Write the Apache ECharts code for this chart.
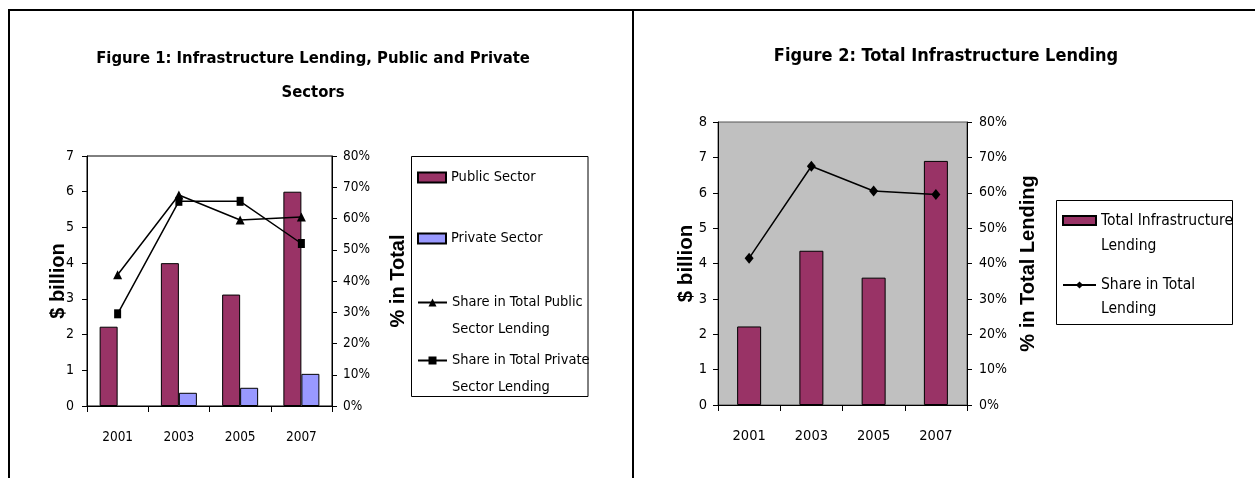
<!DOCTYPE html>
<html>
<head>
<meta charset="utf-8">
<script src="https://cdn.jsdelivr.net/npm/echarts@6/dist/echarts.min.js"></script>
<style>
html,body{margin:0;padding:0;background:#fff;}
#chart{width:1255px;height:478px;}
</style>
</head>
<body>
<div id="chart"></div>
<script>
// ---- data ----
const years = ['2001', '2003', '2005', '2007'];
const publicSector = [2.22, 4.0, 3.12, 6.0];
const privateSector = [null, 0.37, 0.51, 0.9];
const sharePublic = [42, 67.5, 59.5, 60.5];
const sharePrivate = [29.5, 65.5, 65.5, 52];
const totalLending = [2.22, 4.36, 3.6, 6.9];
const shareTotal = [41.5, 67.5, 60.5, 59.5];

const title1 = 'Figure 1: Infrastructure Lending, Public and Private\nSectors';
const title2 = 'Figure 2: Total Infrastructure Lending';

const NARROW = "'Liberation Sans Narrow','Arial Narrow','DejaVu Sans Condensed',sans-serif";
const SANS = "'Liberation Sans',Arial,sans-serif";

const chart = echarts.init(document.getElementById('chart'), null, {renderer: 'canvas'});

const axisNameStyle = (size) => ({fontFamily: SANS, fontSize: size, fontWeight: 'bold', color: '#000'});
const blackLine = {color: '#000', width: 1};

function catAxis(gridIndex, fs) {
  return {
    type: 'category', gridIndex, data: years,
    axisLine: {show: true, lineStyle: blackLine},
    axisTick: {show: true, interval: 0, length: 6, lineStyle: blackLine},
    axisLabel: {interval: 0, margin: 24, fontFamily: NARROW, fontSize: fs, color: '#000'},
    splitLine: {show: false}
  };
}
function valAxis(gridIndex, position, max, interval, fmt, name, nameGap, margin, fs, nfs) {
  return {
    type: 'value', gridIndex, position, min: 0, max, interval,
    name, nameLocation: 'middle', nameGap, nameRotate: 90, nameMoveOverlap: false,
    nameTextStyle: axisNameStyle(nfs),
    axisLine: {show: true, lineStyle: blackLine},
    axisTick: {show: true, length: 5, lineStyle: blackLine},
    axisLabel: {margin, formatter: fmt, fontFamily: NARROW, fontSize: fs, color: '#000'},
    splitLine: {show: false}
  };
}

function oneLegend(name, label, left, top, w, h, L, fs, icon) {
  const ts = {fontFamily: NARROW, fontSize: fs, color: '#000', lineHeight: L};
  const leg = {
    show: true, orient: 'vertical', left, top, padding: 0, itemGap: 0,
    itemWidth: w, itemHeight: h, selectedMode: false,
    formatter: () => label,
    data: [{name, textStyle: ts}],
    textStyle: ts
  };
  if (icon) leg.icon = icon;
  return leg;
}

const option = {
  animation: false,
  backgroundColor: '#fff',
  title: [
    {text: title1, left: 313, top: 42, textAlign: 'center', padding: 0,
     textStyle: {fontFamily: NARROW, fontSize: 16.5, fontWeight: 'bold', color: '#000', lineHeight: 34}},
    {text: title2, left: 946, top: 39, textAlign: 'center', padding: 0,
     textStyle: {fontFamily: NARROW, fontSize: 18, fontWeight: 'bold', color: '#000', lineHeight: 34}}
  ],
  grid: [
    {left: 87, top: 156, width: 245, height: 250, show: true, backgroundColor: '#fff', borderColor: '#000', borderWidth: 1},
    {left: 718, top: 122, width: 249, height: 283, show: true, backgroundColor: '#c0c0c0', borderColor: '#555', borderWidth: 1}
  ],
  xAxis: [catAxis(0, 13.5), catAxis(1, 14.5)],
  yAxis: [
    valAxis(0, 'left', 7, 1, '{value}', '$ billion', 19, 13, 14, 20),
    valAxis(0, 'right', 80, 10, '{value}%', '% in Total', 56, 11, 13.5, 20),
    valAxis(1, 'left', 8, 1, '{value}', '$ billion', 21, 11, 14.5, 20.5),
    valAxis(1, 'right', 80, 10, '{value}%', '% in Total Lending', 51, 12, 14, 20)
  ],
  legend: [
    oneLegend('Public Sector', 'Public Sector', 417, 164, 28, 10, 27, 14.5, 'rect'),
    oneLegend('Private Sector', 'Private Sector', 417, 225, 28, 10, 27, 14.5, 'rect'),
    oneLegend('Share in Total Public Sector Lending', '\nShare in Total Public\nSector Lending', 417, 262, 29, 10, 27, 14.5),
    oneLegend('Share in Total Private Sector Lending', '\nShare in Total Private\nSector Lending', 417, 320, 29, 10, 27, 14.5),
    oneLegend('Total Infrastructure Lending', '\nTotal Infrastructure\nLending', 1062, 183, 33, 9, 25, 15.5, 'rect'),
    oneLegend('Share in Total Lending', '\nShare in Total\nLending', 1062, 249, 33, 9, 24, 15.5)
  ],
  graphic: [
    {type: 'line', shape: {x1: 8, y1: 10, x2: 1255, y2: 10}, style: {stroke: '#000', lineWidth: 2}, silent: true},
    {type: 'line', shape: {x1: 9, y1: 9, x2: 9, y2: 478}, style: {stroke: '#000', lineWidth: 2}, silent: true},
    {type: 'line', shape: {x1: 633, y1: 10, x2: 633, y2: 478}, style: {stroke: '#000', lineWidth: 2}, silent: true},
    {type: 'rect', shape: {x: 411.5, y: 156.5, width: 176.5, height: 240}, style: {fill: 'none', stroke: '#000', lineWidth: 1}, silent: true, z: -1},
    {type: 'rect', shape: {x: 1056.5, y: 200.5, width: 176, height: 124}, style: {fill: 'none', stroke: '#000', lineWidth: 1}, silent: true, z: -1}
  ],
  series: [
    {name: 'Public Sector', type: 'bar', xAxisIndex: 0, yAxisIndex: 0, data: publicSector,
     barWidth: 18, barGap: '0%', itemStyle: {color: '#993366', borderColor: '#000', borderWidth: 1}, z: 2},
    {name: 'Private Sector', type: 'bar', xAxisIndex: 0, yAxisIndex: 0, data: privateSector,
     barWidth: 18, barGap: '0%', itemStyle: {color: '#9999ff', borderColor: '#000', borderWidth: 1}, z: 2},
    {name: 'Share in Total Public Sector Lending', type: 'line', xAxisIndex: 0, yAxisIndex: 1, data: sharePublic,
     symbol: 'triangle', symbolSize: [9, 9], lineStyle: {color: '#000', width: 1.5}, itemStyle: {color: '#000'}, z: 5},
    {name: 'Share in Total Private Sector Lending', type: 'line', xAxisIndex: 0, yAxisIndex: 1, data: sharePrivate,
     symbol: 'rect', symbolSize: [7, 9], lineStyle: {color: '#000', width: 1.5}, itemStyle: {color: '#000'}, z: 5},
    {name: 'Total Infrastructure Lending', type: 'bar', xAxisIndex: 1, yAxisIndex: 2, data: totalLending,
     barWidth: 24, itemStyle: {color: '#993366', borderColor: '#000', borderWidth: 1}, z: 2},
    {name: 'Share in Total Lending', type: 'line', xAxisIndex: 1, yAxisIndex: 3, data: shareTotal,
     symbol: 'diamond', symbolSize: [9, 11], lineStyle: {color: '#000', width: 1.5}, itemStyle: {color: '#000'}, z: 5}
  ]
};
chart.setOption(option);
</script>
</body>
</html>
